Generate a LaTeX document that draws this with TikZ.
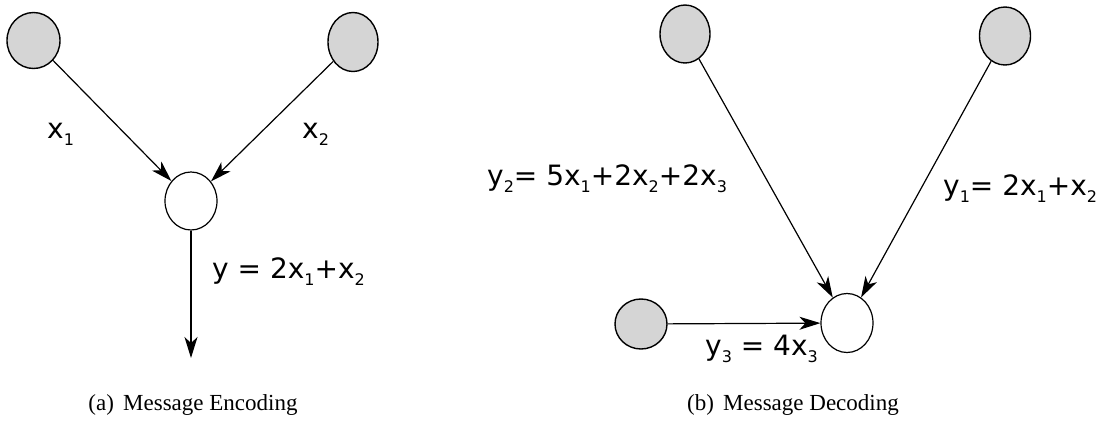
\documentclass[tikz,border=0pt]{standalone}
\usepackage{fontspec}
\setmainfont{Liberation Serif}
\newfontfamily\labfont{DejaVu Sans}
\usetikzlibrary{arrows.meta,shapes.geometric}
\newcommand\sbx[1]{\raisebox{-7pt}{\fontsize{16}{16}\selectfont #1}}
\tikzset{
  src/.style={ellipse, draw=black, line width=1.4pt, fill=gray!33, inner sep=0pt},
  dst/.style={ellipse, draw=black, line width=1.2pt, fill=white, inner sep=0pt},
  arr/.style={line width=1.2pt, -{Stealth[length=21pt,width=13pt,inset=6pt]}},
  lab/.style={anchor=base west, inner sep=0pt, font=\labfont\fontsize{28}{30}\selectfont},
  captxt/.style={anchor=base, inner sep=0pt, font=\fontsize{23}{26}\selectfont},
}
\begin{document}
\begin{tikzpicture}[x=1pt,y=-1pt]
\useasboundingbox (0,0) rectangle (1117,421);
% panel (a)
\node[src, minimum width=53pt, minimum height=56pt] (a1) at (33.5,40.5) {};
\node[src, minimum width=50pt, minimum height=59pt] (a2) at (353,42) {};
\node[dst, minimum width=52pt, minimum height=58pt] (a0) at (191,201) {};
\coordinate (aout) at (191,358);
\draw[arr] (a1) -- (a0);
\draw[arr] (a2) -- (a0);
\draw[arr] (a0) -- (aout);
\node[lab] (lx1) at (47,138) {x\sbx{1}};
\node[lab] (lx2) at (302,138) {x\sbx{2}};
\node[lab] (ly) at (212,278) {y = 2x\sbx{1}+x\sbx{2}};
\node[captxt] (capa) at (193,410) {(a)\hspace{0.4em}Message Encoding};
% panel (b)
\node[src, minimum width=50pt, minimum height=58pt] (b1) at (685,34) {};
\node[src, minimum width=51pt, minimum height=58pt] (b2) at (1005,36) {};
\node[src, minimum width=52pt, minimum height=50pt] (b3) at (641,324) {};
\node[dst, minimum width=52pt, minimum height=59pt] (b0) at (847,323) {};
\draw[arr] (b1) -- (b0);
\draw[arr] (b2) -- (b0);
\draw[arr] (b3) -- (b0);
\node[lab] (ly2) at (487,185) {y\sbx{2}= 5x\sbx{1}+2x\sbx{2}+2x\sbx{3}};
\node[lab] (ly1) at (943,195) {y\sbx{1}= 2x\sbx{1}+x\sbx{2}};
\node[lab] (ly3) at (705,355) {y\sbx{3} = 4x\sbx{3}};
\node[captxt] (capb) at (793,410) {(b)\hspace{0.4em}Message Decoding};
\end{tikzpicture}
\end{document}
